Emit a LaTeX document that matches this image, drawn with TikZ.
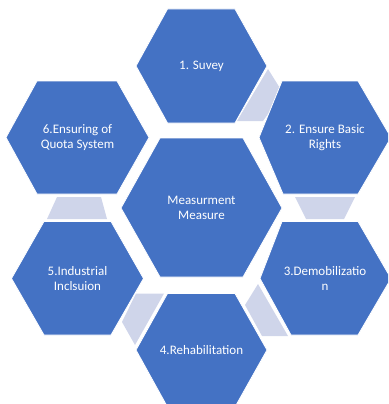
\documentclass[tikz,border=0pt]{standalone}
\usepackage{fontspec}
\setmainfont{Carlito}
\usetikzlibrary{positioning,calc}
\definecolor{hexblue}{HTML}{4472C4}
\definecolor{linkgrey}{HTML}{CFD5EA}

\begin{document}
\begin{tikzpicture}[x=1pt, y=-1pt,
    hexa/.style={fill=hexblue, draw=white, line width=0.8pt},
    link/.style={fill=linkgrey},
    hextext/.style={text=white, align=center, inner sep=0pt, font=\fontsize{13}{15}\selectfont}]

        \clip (0,0) rectangle (388,404);

        % Links
        \fill [link] (268,69) -- (283,93) -- (263,121) -- (237,121) -- cycle;
        \fill [link] (295,197) -- (355,197) -- (344,219) -- (306,219) -- cycle;
        \fill [link] (258,284) -- (288,336) -- (262,336) -- (245,305) -- cycle;
        \fill [link] (136,293.5) -- (164,293.5) -- (135,345) -- (122,322) -- cycle;
        \fill [link] (57,197) -- (101,197) -- (107,219) -- (47,219) -- cycle;

        % Measure
        \filldraw [hexa] (160,138) -- (243,138) -- (282,208) -- (243,277) -- (160,277) -- (121,208) -- cycle;
        \node [hextext] (Measure) at (201.5,208) {Measurment\\Measure};

        % Survey
        \filldraw [hexa] (167.5,9) -- (235,9) -- (267,66) -- (235,123) -- (167.5,123) -- (136,66) -- cycle;
        \node [hextext] (Survey) at (201.5,66) {1. Suvey};

        % Rights
        \filldraw [hexa] (282,81) -- (358,81) -- (391,137.5) -- (358,194) -- (283,194) -- (259,137.5) -- cycle;
        \node [hextext] (Rights) at (325,137.5) {2. Ensure Basic\\Rights};

        % Demobilization
        \filldraw [hexa] (282,221.5) -- (358,221.5) -- (391,278.5) -- (358,335) -- (291,335) -- (260,278.5) -- cycle;
        \node [hextext] (Demob) at (325,278.5) {3.Demobilizatio\\n};

        % Rehabilitation
        \filldraw [hexa] (167.5,293.5) -- (235,293.5) -- (267,350) -- (235,407) -- (167.5,407) -- (136,350) -- cycle;
        \node [hextext] (Rehab) at (201.5,350) {4.Rehabilitation};

        % Industrial
        \filldraw [hexa] (44,221.5) -- (111,221.5) -- (143.5,278.5) -- (111,335) -- (44,335) -- (11.5,278.5) -- cycle;
        \node [hextext] (Industry) at (77.5,278.5) {5.Industrial\\Inclsuion};

        % Quota
        \filldraw [hexa] (37,81) -- (117,81) -- (149,137.5) -- (117,194) -- (37,194) -- (6,137.5) -- cycle;
        \node [hextext] (Quota) at (77.5,137.5) {6.Ensuring of\\Quota System};

    \end{tikzpicture}
\end{document}
